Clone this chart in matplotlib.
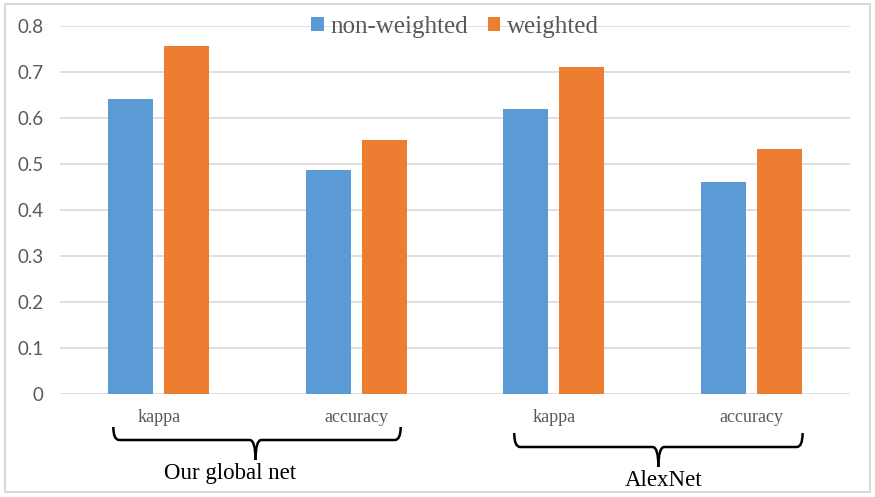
import matplotlib
matplotlib.use("Agg")
import matplotlib.pyplot as plt
import numpy as np
from matplotlib.path import Path
from matplotlib.patches import PathPatch, Rectangle
from matplotlib.transforms import blended_transform_factory

categories = ["kappa", "accuracy", "kappa", "accuracy"]
groups = ["Our global net", "AlexNet"]
non_weighted = [0.641, 0.487, 0.620, 0.461]
weighted = [0.757, 0.552, 0.710, 0.532]
yticks = [0, 0.1, 0.2, 0.3, 0.4, 0.5, 0.6, 0.7, 0.8]
ytick_labels = ["0", "0.1", "0.2", "0.3", "0.4", "0.5", "0.6", "0.7", "0.8"]

W, H = 875, 497
fig = plt.figure(figsize=(W / 100, H / 100), dpi=100)
ax = fig.add_axes([60 / W, 1 - 394 / H, 790 / W, 368 / H])

x = np.arange(len(categories))
bw = 0.228
off = 0.142
ax.bar(x - off, non_weighted, bw, color="#5B9BD5", label="non-weighted", zorder=3)
ax.bar(x + off, weighted, bw, color="#ED7D31", label="weighted", zorder=3)

ax.set_xlim(-0.5, 3.5)
ax.set_ylim(0, 0.8)
ax.set_yticks(yticks)
ax.set_yticklabels(ytick_labels, fontfamily="Lato", fontsize=13.5, color="#595959")
ax.tick_params(axis="y", length=0, pad=12)
ax.set_xticks([])
ax.grid(axis="y", color="#D9D9D9", linewidth=1.2, zorder=0)
for s in ax.spines.values():
    s.set_visible(False)
ax.set_axisbelow(True)

tr = blended_transform_factory(ax.transData, fig.transFigure)
for i, c in enumerate(categories):
    ax.text(i, 1 - 417 / H, c, ha="center", va="center",
            fontfamily="Liberation Serif", fontsize=13, color="#595959",
            transform=tr, clip_on=False)

leg = ax.legend(loc="center", bbox_to_anchor=(0.50, 0.997), ncol=2, frameon=False,
                prop={"family": "Liberation Serif", "size": 18},
                handlelength=0.5, handleheight=0.5, handletextpad=0.25,
                columnspacing=0.8, borderaxespad=0)
for t in leg.get_texts():
    t.set_color("#595959")


def brace(x0, x1, xm, yh, ytop, ybot):
    fy = lambda p: 1 - p / H
    r = 0.03
    codes = [Path.MOVETO, Path.CURVE3, Path.CURVE3, Path.LINETO, Path.CURVE3, Path.CURVE3]
    for xe, sgn in ((x0, 1), (x1, -1)):
        verts = [
            (xe, fy(ytop)), (xe, fy(yh)), (xe + sgn * r, fy(yh)),
            (xm - sgn * r, fy(yh)), (xm, fy(yh)), (xm, fy(ybot)),
        ]
        ax.add_patch(PathPatch(Path(verts, codes), fill=False, lw=1.8, ec="black",
                               transform=tr, clip_on=False))

brace(-0.23, 1.225, 0.49, 440, 427, 460)
brace(1.80, 3.26, 2.53, 447, 433, 467)

ax.text(0.36, 1 - 473 / H, groups[0], ha="center", va="center", transform=tr,
        fontfamily="Liberation Serif", fontsize=16.5, color="black")
ax.text(2.557, 1 - 480 / H, groups[1], ha="center", va="center", transform=tr,
        fontfamily="Liberation Serif", fontsize=16.5, color="black")

fig.patches.append(Rectangle((5 / W, 1 - 492 / H), 865 / W, 488 / H, fill=False,
                             ec="#D9D9D9", lw=1.5, transform=fig.transFigure))

fig.savefig("out.png", dpi=100)
